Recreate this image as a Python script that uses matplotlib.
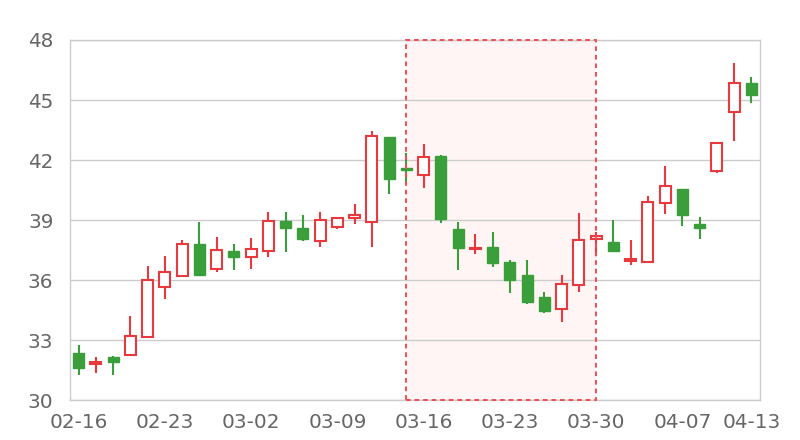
from __future__ import annotations

import numpy as np
from matplotlib.figure import Figure
from matplotlib.patches import Rectangle

dates = [
    "02-16", "02-17", "02-18", "02-19", "02-20", "02-23", "02-24", "02-25", "02-26", "02-27",
    "03-02", "03-03", "03-04", "03-05", "03-06", "03-09", "03-10", "03-11", "03-12", "03-13",
    "03-16", "03-17", "03-18", "03-19", "03-20", "03-23", "03-24", "03-25", "03-26", "03-27",
    "03-30", "03-31", "04-01", "04-02", "04-06", "04-07", "04-08", "04-09", "04-10", "04-13",
]
opens = [
    32.33, 31.82, 32.13, 32.25, 33.15, 35.67, 36.18, 37.80, 36.55, 37.43,
    37.17, 37.45, 38.93, 38.62, 37.97, 38.67, 39.08, 38.92, 43.13, 41.60,
    41.25, 42.18, 38.53, 37.55, 37.63, 36.88, 36.27, 35.15, 34.55, 35.75,
    38.05, 37.90, 36.95, 36.90, 39.83, 40.57, 38.82, 41.43, 44.40, 45.85,
]
closes = [
    31.58, 31.88, 31.88, 33.18, 36.02, 36.42, 37.78, 36.27, 37.50, 37.15,
    37.53, 38.93, 38.62, 38.05, 39.02, 39.12, 39.25, 43.22, 41.05, 41.50,
    42.15, 39.03, 37.62, 37.62, 36.83, 36.00, 34.92, 34.45, 35.80, 38.00,
    38.20, 37.45, 37.05, 39.92, 40.70, 39.27, 38.62, 42.85, 45.83, 45.23,
]
highs = [
    32.77, 32.13, 32.20, 34.20, 36.70, 37.22, 38.00, 38.92, 38.13, 37.80,
    38.08, 39.38, 39.38, 39.25, 39.38, 39.17, 39.78, 43.45, 43.13, 42.33,
    42.80, 42.25, 38.92, 38.30, 38.38, 37.00, 36.98, 35.38, 36.25, 39.37,
    38.42, 39.00, 37.98, 40.22, 41.70, 40.57, 39.17, 42.85, 46.83, 46.13,
]
lows = [
    31.25, 31.33, 31.25, 32.25, 33.15, 35.03, 36.18, 36.27, 36.42, 36.48,
    36.53, 37.17, 37.42, 37.97, 37.67, 38.55, 38.80, 37.65, 40.30, 40.80,
    40.58, 38.83, 36.50, 37.30, 36.67, 35.37, 34.78, 34.33, 33.92, 35.42,
    37.20, 37.42, 36.73, 36.90, 39.28, 38.72, 38.03, 41.33, 42.93, 44.85,
]
highlight_start = "03-13"
highlight_end = "03-30"
label_dates = ["02-16", "02-23", "03-02", "03-09", "03-16", "03-23", "03-30", "04-07", "04-13"]
y_ticks = [30, 33, 36, 39, 42, 45, 48]

UP = "#e8393f"
DOWN = "#3a9f3a"
GRID = "#cccccc"
TEXT = "#666666"


def draw_candles(ax) -> None:
    x = np.arange(len(dates))
    o = np.array(opens)
    c = np.array(closes)
    up = c >= o
    colors = np.where(up, UP, DOWN)
    ax.vlines(x, lows, highs, colors=colors, linewidth=1.5, zorder=2)

    # tiny bodies still need a visible bar
    bottom = np.minimum(o, c)
    height = np.maximum(np.abs(c - o), 0.07)
    ax.bar(x[up], height[up], bottom=bottom[up], width=0.63, facecolor="white",
           edgecolor=UP, linewidth=1.5, zorder=3)
    ax.bar(x[~up], height[~up], bottom=bottom[~up], width=0.63, facecolor=DOWN,
           edgecolor=DOWN, linewidth=1.0, zorder=3)


def draw_highlight(ax) -> None:
    x0 = dates.index(highlight_start)
    x1 = dates.index(highlight_end)
    ax.axvspan(x0, x1, facecolor="#fff5f5", edgecolor="none", zorder=0)
    ax.add_patch(Rectangle((x0, 30), x1 - x0, 18, fill=False, edgecolor="#ee4f55",
                           linewidth=1.4, linestyle=(0, (2.4, 2.0)), zorder=4, clip_on=False))


figure = Figure(figsize=(8, 4.4), dpi=100)
ax = figure.add_axes([70 / 800, 40 / 440, 690 / 800, 360 / 440])

draw_highlight(ax)
draw_candles(ax)

ax.set_xlim(-0.5, len(dates) - 0.5)
ax.set_ylim(30, 48)
ax.set_yticks(y_ticks)
ax.set_xticks([dates.index(d) for d in label_dates])
ax.set_xticklabels(label_dates)
ax.tick_params(axis="both", length=0, labelsize=14.4, labelcolor=TEXT)
ax.tick_params(axis="y", pad=12)
ax.tick_params(axis="x", pad=9)
ax.grid(axis="y", color=GRID, linewidth=1.0, zorder=1)
ax.set_axisbelow(True)
for spine in ax.spines.values():
    spine.set_color(GRID)
    spine.set_linewidth(1.0)

figure.savefig("out.png", dpi=100)
